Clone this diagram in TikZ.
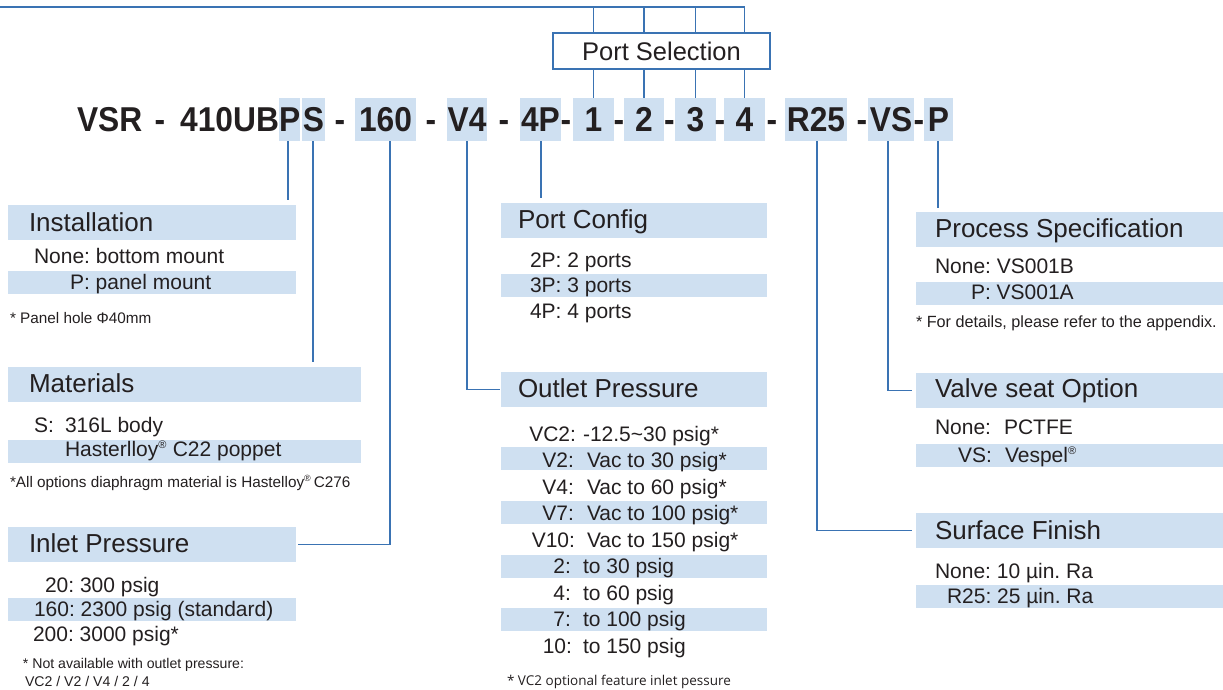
\documentclass[tikz,border=0pt]{standalone}
\usepackage{fontspec}
\setmainfont{Liberation Sans}
\newfontfamily\notefont{Open Sans}
\definecolor{hl}{HTML}{CFE0F1}
\definecolor{ln}{HTML}{3A73B3}
\definecolor{tx}{HTML}{231F20}
\newcommand\cdf[1]{\scalebox{0.92}[1]{#1}}
\frenchspacing
\tikzset{
  every node/.style={text=tx,inner sep=0pt,outer sep=0pt},
  codebox/.style={fill=hl,anchor=north west,minimum height=43pt,text height=24.7pt,text depth=0pt,font=\fontsize{34.5}{34}\bfseries\selectfont},
  codetxt/.style={anchor=base,font=\fontsize{34.5}{34}\bfseries\selectfont},
  hdrbox/.style={fill=hl,anchor=north west,minimum height=35pt},
  rowbox/.style={fill=hl,anchor=north west,minimum height=23pt},
  title/.style={anchor=base west,font=\fontsize{26}{30}\selectfont},
  item/.style={anchor=base west,font=\fontsize{21}{24}\selectfont},
  iteme/.style={anchor=base east,font=\fontsize{21}{24}\selectfont},
  note/.style={anchor=base west,font=\fontsize{15.3}{18}\selectfont},
  smallnote/.style={anchor=base west,font=\fontsize{14.1}{16}\selectfont},
  conn/.style={draw=ln,line width=1.4pt},
  psbox/.style={draw=ln,line width=2.8pt,fill=white,anchor=north west,minimum width=217pt,minimum height=36pt,font=\fontsize{25.5}{30}\selectfont}
}
\begin{document}
\begin{tikzpicture}[x=1pt,y=-1pt]
\useasboundingbox (0,0) rectangle (1223,689);

% ---- code row ----
\node[codetxt,anchor=base west] (cVSR) at (77,131) {\cdf{VSR}};
\node[codetxt] (d0) at (160,131) {\cdf{-}};
\node[codetxt,anchor=base east] (c410) at (279,131) {\cdf{410UB}};
\node[codebox,minimum width=21pt] (cP) at (279,98) {\cdf{P}};
\node[codebox,minimum width=23pt] (cS) at (302,98) {\cdf{S}};
\node[codetxt] (d1) at (340,131) {\cdf{-}};
\node[codebox,minimum width=61pt] (c160) at (355,98) {\cdf{160}};
\node[codetxt] (d2) at (431,131) {\cdf{-}};
\node[codebox,minimum width=40pt] (cV4) at (447,98) {\cdf{V4}};
\node[codetxt] (d3) at (504,131) {\cdf{-}};
\node[codebox,minimum width=41pt] (c4P) at (520,98) {\cdf{4P}};
\node[codetxt] (d4) at (566,131) {\cdf{-}};
\node[codebox,minimum width=41pt] (c1) at (573,98) {\cdf{1}};
\node[codetxt] (d5) at (619,131) {\cdf{-}};
\node[codebox,minimum width=40pt] (c2) at (624,98) {\cdf{2}};
\node[codetxt] (d6) at (669.5,131) {\cdf{-}};
\node[codebox,minimum width=41pt] (c3) at (675,98) {\cdf{3}};
\node[codetxt] (d7) at (720,131) {\cdf{-}};
\node[codebox,minimum width=41pt] (c4) at (724,98) {\cdf{4}};
\node[codetxt] (d8) at (772,131) {\cdf{-}};
\node[codebox,minimum width=62pt] (cR25) at (785,98) {\cdf{R25}};
\node[codetxt] (d9) at (862,131) {\cdf{-}};
\node[codebox,minimum width=46pt] (cVS) at (868,98) {\cdf{VS}};
\node[codetxt] (d10) at (919,131) {\cdf{-}};
\node[codebox,minimum width=29pt] (cPP) at (924,98) {\cdf{P}};

% ---- port selection ----
\node[psbox] (ps) at (553,33) {Port Selection};
\coordinate (topL) at (0,7);
\draw[conn] (topL) -- (topL -| c4.north);
\foreach \c in {c1,c2,c3,c4}{
  \draw[conn] (\c.north |- topL) -- (\c.north |- ps.north);
  \draw[conn] (\c.north |- ps.south) -- (\c.north);
}

% ---- Installation ----
\node[hdrbox,minimum width=288pt] (inst) at (8,205) {};
\node[title] (instT) at (29,231) {Installation};
\node[item] (inst1) at (34,263) {None: bottom mount};
\node[rowbox,minimum width=288pt] (instR) at (8,271) {};
\node[item] (inst2) at (70,289) {P: panel mount};
\node[note] (instN) at (10,323) {* Panel hole Φ40mm};

% ---- Materials ----
\node[hdrbox,minimum width=353pt] (mat) at (8,367) {};
\node[title] (matT) at (29,392) {Materials};
\node[item] (mat1a) at (34,432) {S:};
\node[item] (mat1b) at (65,432) {316L body};
\node[rowbox,minimum width=353pt] (matR) at (8,440) {};
\node[item] (mat2) at (65,456) {Hasterlloy\textsuperscript{\fontsize{11}{11}\selectfont ®} C22 poppet};
\node[note] (matN) at (10,487) {*All options diaphragm material is Hastelloy\textsuperscript{\fontsize{9}{9}\selectfont ®}\,C276};

% ---- Inlet Pressure ----
\node[hdrbox,minimum width=288pt] (inl) at (8,527) {};
\node[title] (inlT) at (29,552) {Inlet Pressure};
\node[item] (inl1) at (45,592) {20: 300 psig};
\node[rowbox,minimum width=288pt] (inlR) at (8,598) {};
\node[item] (inl2) at (34,616) {160: 2300 psig (standard)};
\node[item] (inl3) at (33,641) {200: 3000 psig*};
\node[smallnote] (inlN1) at (23,668) {* Not available with outlet pressure:};
\node[smallnote] (inlN2) at (25,686) {VC2 / V2 / V4 / 2 / 4};

% ---- Port Config ----
\node[hdrbox,minimum width=266pt] (pc) at (501,203) {};
\node[title] (pcT) at (518,228) {Port Config};
\node[item] (pc1) at (530,267) {2P: 2 ports};
\node[rowbox,minimum width=266pt] (pcR) at (501,274) {};
\node[item] (pc2) at (530,292) {3P: 3 ports};
\node[item] (pc3) at (530,318) {4P: 4 ports};

% ---- Outlet Pressure ----
\node[hdrbox,minimum width=266pt] (out) at (501,372) {};
\node[title] (outT) at (518,397) {Outlet Pressure};
\node[rowbox,minimum width=266pt] (outR1) at (501,447) {};
\node[rowbox,minimum width=266pt] (outR2) at (501,501) {};
\node[rowbox,minimum width=266pt] (outR3) at (501,555) {};
\node[rowbox,minimum width=266pt] (outR4) at (501,608) {};
\node[iteme] (o1a) at (576,441) {VC2:};   \node[item] (o1b) at (583,441) {-12.5\textasciitilde 30 psig*};
\node[iteme] (o2a) at (574,467.5) {V2:};  \node[item] (o2b) at (587,467.5) {Vac to 30 psig*};
\node[iteme] (o3a) at (574,494) {V4:};    \node[item] (o3b) at (587,494) {Vac to 60 psig*};
\node[iteme] (o4a) at (574,520.5) {V7:};  \node[item] (o4b) at (587,520.5) {Vac to 100 psig*};
\node[iteme] (o5a) at (575,547) {V10:};   \node[item] (o5b) at (587,547) {Vac to 150 psig*};
\node[iteme] (o6a) at (571,573.5) {2:};   \node[item] (o6b) at (583,573.5) {to 30 psig};
\node[iteme] (o7a) at (571,600) {4:};     \node[item] (o7b) at (583,600) {to 60 psig};
\node[iteme] (o8a) at (571,626.5) {7:};   \node[item] (o8b) at (583,626.5) {to 100 psig};
\node[iteme] (o9a) at (572,653) {10:};    \node[item] (o9b) at (583,653) {to 150 psig};
\node[anchor=base west,font=\notefont\fontsize{13.5}{16}\selectfont] (outN) at (507,685) {* VC2 optional feature inlet pessure};

% ---- Process Specification ----
\node[hdrbox,minimum width=307pt] (prs) at (916,212) {};
\node[title] (prsT) at (935,237) {Process Specification};
\node[item] (prs1) at (935,273) {None: VS001B};
\node[rowbox,minimum width=307pt] (prsR) at (916,282) {};
\node[item] (prs2) at (971,299) {P: VS001A};
\node[note,font=\fontsize{16.2}{18}\selectfont] (prsN) at (916,327) {* For details, please refer to the appendix.};

% ---- Valve seat Option ----
\node[hdrbox,minimum width=307pt] (vs) at (916,373) {};
\node[title] (vsT) at (935,397) {Valve seat Option};
\node[item] (vs1a) at (935,434) {None:};
\node[item] (vs1b) at (1004,434) {PCTFE};
\node[rowbox,minimum width=307pt] (vsR) at (916,444) {};
\node[item] (vs2a) at (958,462) {VS:};
\node[item] (vs2b) at (1005,462) {Vespel\textsuperscript{\fontsize{11}{11}\selectfont ®}};

% ---- Surface Finish ----
\node[hdrbox,minimum width=307pt] (sf) at (916,513) {};
\node[title] (sfT) at (935,539) {Surface Finish};
\node[item] (sf1) at (935,578) {None: 10 µin. Ra};
\node[rowbox,minimum width=307pt] (sfR) at (916,585) {};
\node[item] (sf2) at (947,603) {R25: 25 µin. Ra};

% ---- connectors ----
\coordinate (eP) at (288,200);
\coordinate (eS) at (313,362);
\coordinate (e4P) at (541,198);
\coordinate (ePP) at (938,208);
\draw[conn] (cP.south -| eP) -- (eP);
\draw[conn] (cS.south -| eS) -- (eS);
\draw[conn] (c4P.south -| e4P) -- (e4P);
\draw[conn] (cPP.south -| ePP) -- (ePP);
\draw[conn] ([xshift=4.5pt]c160.south) |- ([xshift=2pt]inl.east);
\draw[conn] (cV4.south) |- ([xshift=-1pt]out.west);
\draw[conn] ([xshift=1pt]cR25.south) |- ([xshift=-4pt]sf.west);
\draw[conn] ([xshift=-3pt]cVS.south) |- ([xshift=-4pt]vs.west);
\end{tikzpicture}
\end{document}
